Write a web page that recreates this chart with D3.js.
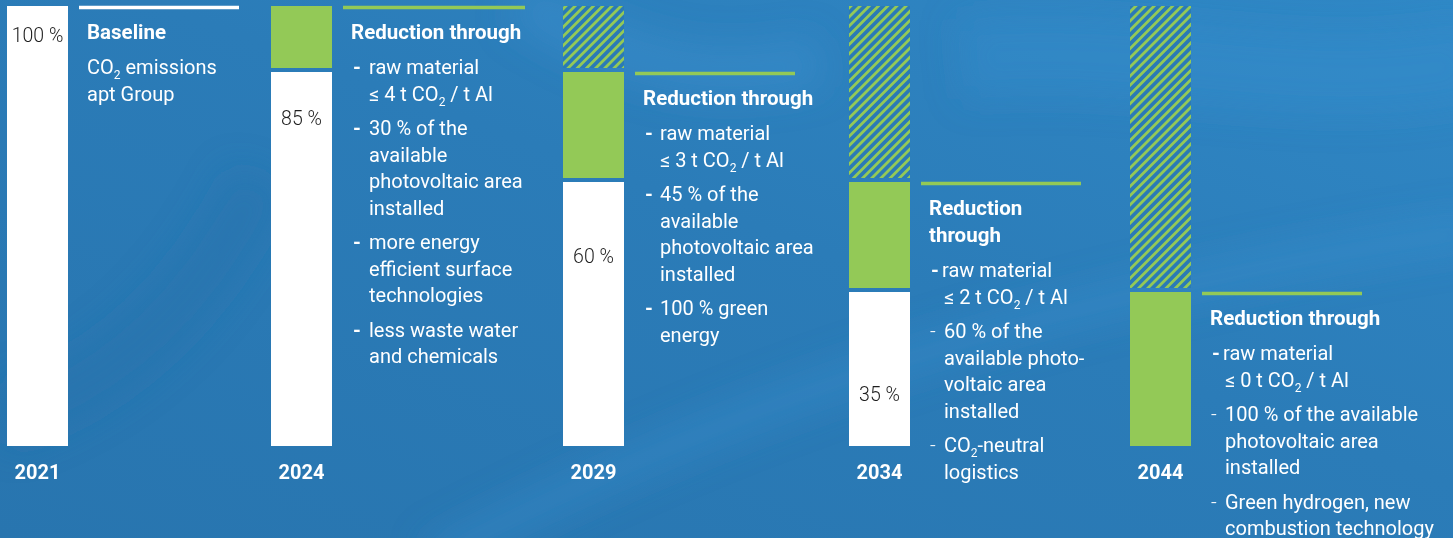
<!DOCTYPE html>
<html>
<head>
<meta charset="utf-8">
<script src="https://cdn.jsdelivr.net/npm/d3@7/dist/d3.min.js"></script>
<style>
  body { margin: 0; background: #2a79b4; overflow: hidden; }
  svg { display: block; font-family: Roboto, "Noto Sans", sans-serif; }
</style>
</head>
<body>
<div id="chart"></div>
<script>
// Data
//================================
var years = ["2021", "2024", "2029", "2034", "2044"];
var remaining = [100, 85, 60, 35, 0];     // white part
var newCut = [0, 15, 25, 25, 35];         // green part, reduction of this step
var earlierCut = [0, 0, 15, 40, 65];      // hatched part, earlier reductions
var percentLabels = ["100 %", "85 %", "60 %", "35 %", ""];

var headings = [
  ["Baseline"],
  ["Reduction through"],
  ["Reduction through"],
  ["Reduction", "through"],
  ["Reduction through"]
];

// one list of items per year, each item is a list of text lines
var notes = [
  [["CO2 emissions", "apt Group"]],
  [["raw material", "≤ 4 t CO2 / t Al"],
   ["30 % of the", "available", "photovoltaic area", "installed"],
   ["more energy", "efficient surface", "technologies"],
   ["less waste water", "and chemicals"]],
  [["raw material", "≤ 3 t CO2 / t Al"],
   ["45 % of the", "available", "photovoltaic area", "installed"],
   ["100 % green", "energy"]],
  [["raw material", "≤ 2 t CO2 / t Al"],
   ["60 % of the", "available photo-", "voltaic area", "installed"],
   ["CO2-neutral", "logistics"]],
  [["raw material", "≤ 0 t CO2 / t Al"],
   ["100 % of the available", "photovoltaic area", "installed"],
   ["Green hydrogen, new", "combustion technology"]]
];

// Step 1: chart setup
//================================
var svgWidth = 1453;
var svgHeight = 538;
var barWidth = 61;
var gap = 4;
var green = "#93c957";

var svg = d3.select("#chart")
  .append("svg")
  .attr("width", svgWidth)
  .attr("height", svgHeight);

var defs = svg.append("defs");

// background
var bg = defs.append("linearGradient")
  .attr("id", "bg")
  .attr("x1", 0).attr("y1", 1).attr("x2", 1).attr("y2", 0);
bg.append("stop").attr("offset", "0%").attr("stop-color", "#2875af");
bg.append("stop").attr("offset", "55%").attr("stop-color", "#2b7cb8");
bg.append("stop").attr("offset", "100%").attr("stop-color", "#3088c6");

defs.append("filter").attr("id", "blur")
  .attr("x", "-20%").attr("y", "-20%").attr("width", "140%").attr("height", "140%")
  .append("feGaussianBlur").attr("stdDeviation", 18);

var hatch = defs.append("pattern")
  .attr("id", "hatch")
  .attr("patternUnits", "userSpaceOnUse")
  .attr("width", 6.5)
  .attr("height", 6.5)
  .attr("patternTransform", "rotate(45)");
hatch.append("rect")
  .attr("width", 6.5).attr("height", 6.5)
  .attr("fill", "#2a7ab6");
hatch.append("rect")
  .attr("width", 2.8).attr("height", 6.5)
  .attr("fill", green);

svg.append("rect")
  .attr("width", svgWidth).attr("height", svgHeight)
  .attr("fill", "url(#bg)");

// soft light swooshes
var swoosh = svg.append("g").attr("filter", "url(#blur)");
swoosh.append("path")
  .attr("d", "M430,560 C700,420 1000,300 1480,230")
  .attr("fill", "none").attr("stroke", "#3f93d2").attr("stroke-width", 34).attr("opacity", 0.35);
swoosh.append("path")
  .attr("d", "M520,0 C620,60 700,90 820,60")
  .attr("fill", "none").attr("stroke", "#4595d3").attr("stroke-width", 50).attr("opacity", 0.35);
swoosh.append("path")
  .attr("d", "M960,60 C1150,40 1300,100 1480,60")
  .attr("fill", "none").attr("stroke", "#3d91d0").attr("stroke-width", 80).attr("opacity", 0.3);
swoosh.append("path")
  .attr("d", "M0,420 C120,380 200,300 260,180")
  .attr("fill", "none").attr("stroke", "#2470aa").attr("stroke-width", 60).attr("opacity", 0.4);

// Step 2: scales
//================================
var yScale = d3.scaleLinear().domain([0, 100]).range([446, 6]);
var xScale = d3.scaleOrdinal().domain(years).range([7, 271, 563, 849, 1130]);
var labelScale = d3.scaleLinear().domain([100, 35]).range([42, 401]);

var table = years.map(function(yr, i) {
  return { year: yr, remaining: remaining[i], newCut: newCut[i], earlierCut: earlierCut[i] };
});

var stack = d3.stack().keys(["remaining", "newCut", "earlierCut"]);
var series = stack(table);

var fills = { remaining: "#ffffff", newCut: green, earlierCut: "url(#hatch)" };

// Step 3: bars
//================================
var chartGroup = svg.append("g");

series.forEach(function(s) {
  chartGroup.selectAll("rect." + s.key)
    .data(s.filter(function(d) { return d[1] > d[0]; }))
    .enter()
    .append("rect")
    .attr("class", s.key)
    .attr("x", d => xScale(d.data.year))
    .attr("y", d => yScale(d[1]))
    .attr("width", barWidth)
    .attr("height", d => yScale(d[0]) - yScale(d[1]) - (d[0] > 0 ? gap : 0))
    .attr("fill", fills[s.key]);
});

// percent labels inside white bars
chartGroup.selectAll("text.pct")
  .data(table.filter(d => d.remaining > 0))
  .enter()
  .append("text")
  .attr("class", "pct")
  .attr("x", d => xScale(d.year) + barWidth / 2)
  .attr("y", d => labelScale(d.remaining))
  .attr("text-anchor", "middle")
  .attr("font-size", 19.5)
  .attr("font-weight", 300)
  .attr("fill", "#1e1e1e")
  .text(d => percentLabels[years.indexOf(d.year)]);

// year labels
chartGroup.selectAll("text.year")
  .data(years)
  .enter()
  .append("text")
  .attr("class", "year")
  .attr("x", d => xScale(d) + barWidth / 2)
  .attr("y", 479)
  .attr("text-anchor", "middle")
  .attr("font-size", 20)
  .attr("font-weight", 700)
  .attr("fill", "#fff")
  .text(d => d);

// Step 4: text blocks
//================================
var lineLengths = [160, 182, 160, 160, 160];
var indents = [0, 18, 17, 13, 13];

// writes a string into a text element, with the 2 of CO2 as subscript
function writeLine(sel, str) {
  var parts = str.split("CO2");
  parts.forEach(function(p, i) {
    if (i > 0) {
      sel.append("tspan").text("CO");
      sel.append("tspan").attr("font-size", 12).attr("dy", 5).text("2");
      sel.append("tspan").attr("dy", -5).text(p);
    } else {
      sel.append("tspan").text(p);
    }
  });
}

table.forEach(function(d, i) {
  var bx = xScale(d.year);
  var top = yScale(d.remaining + d.newCut);
  var lineY = top + 1.5;
  var tx = bx + 80;
  var g = chartGroup.append("g");

  g.append("line")
    .attr("x1", bx + 72).attr("x2", bx + 72 + lineLengths[i])
    .attr("y1", lineY).attr("y2", lineY)
    .attr("stroke", i === 0 ? "#fff" : green)
    .attr("stroke-width", 3.5);

  var cursor = top + 33;
  headings[i].forEach(function(h, k) {
    if (k > 0) cursor += 27;
    g.append("text")
      .attr("x", tx).attr("y", cursor)
      .attr("font-size", 20.5).attr("font-weight", 700)
      .attr("fill", "#fff")
      .text(h);
  });
  cursor += 35;

  notes[i].forEach(function(item, j) {
    if (j > 0) cursor += 34.5;
    if (i > 0) {
      var boldDash = (i < 3 || j === 0);
      g.append("text")
        .attr("x", tx + (boldDash ? 2 : 1)).attr("y", cursor)
        .attr("font-size", 20)
        .attr("font-weight", boldDash ? 700 : 300)
        .attr("fill", "#fff")
        .text("-");
    }
    item.forEach(function(line, k) {
      if (k > 0) cursor += 26.5;
      var t = g.append("text")
        .attr("x", tx + indents[i] + (i >= 3 && (k > 0 || j > 0) ? 2 : 0))
        .attr("y", cursor)
        .attr("font-size", 20)
        .attr("fill", "#fff");
      writeLine(t, line);
    });
  });
});
</script>
</body>
</html>
